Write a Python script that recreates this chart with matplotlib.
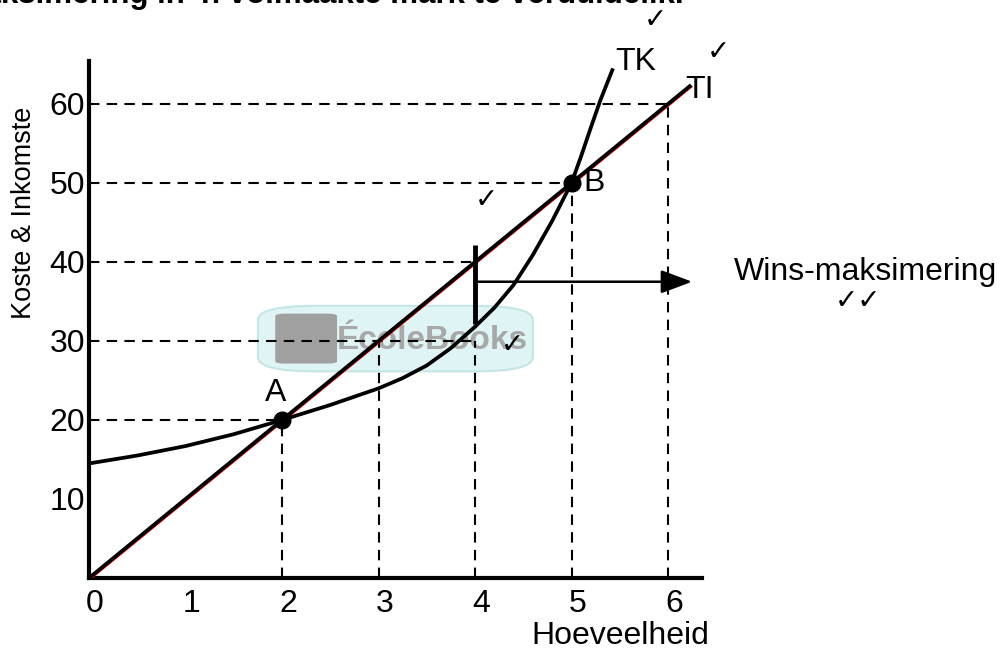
import matplotlib
matplotlib.use("Agg")
import matplotlib.pyplot as plt
from matplotlib.patches import FancyBboxPatch
import matplotlib.transforms as mtransforms

plt.rcParams['font.family'] = ['Liberation Sans', 'DejaVu Sans']

# data
qty_ticks = [0, 1, 2, 3, 4, 5, 6]
value_ticks = [10, 20, 30, 40, 50, 60]

# total income (TI), straight line through origin
ti_q = [0, 6.24]
ti_val = [0, 62.4]

# total cost (TK)
tk_q = [0, 0.5, 1, 1.5, 2, 2.5, 3, 3.25, 3.5, 3.75, 4, 4.2, 4.4, 4.6, 4.8, 5, 5.1, 5.2, 5.3, 5.43]
tk_val = [14.5, 15.5, 16.7, 18.2, 20, 21.9, 24, 25.3, 26.9, 29.1, 31.8, 34.2, 37.1, 40.9, 45.2, 50,
          53.4, 57, 60.5, 64.5]

# points A and B
pt_q = [2, 5]
pt_val = [20, 50]
pt_names = ['A', 'B']

# dashed guides: (value, qty)
guides_h = [(60, 6), (50, 5), (40, 4), (30, 4), (20, 2)]
guides_v = [(2, 20), (3, 30), (4, 30), (5, 50), (6, 60)]

# profit gap at Q=4
gap_q = 4
gap_low, gap_high = 32.2, 42.2
arrow_val = 37.5
arrow_end = 6.25

fig = plt.figure(figsize=(10.07, 6.52), dpi=100)
ax = fig.add_axes([0.0884, 0.1135, 0.6085, 0.7937])
ax.set_xlim(0, 6.35)
ax.set_ylim(0, 65.5)

for s in ['top', 'right']:
    ax.spines[s].set_visible(False)
for s in ['left', 'bottom']:
    ax.spines[s].set_linewidth(3)

ax.set_xticks(qty_ticks)
ax.set_yticks(value_ticks)
ax.tick_params(length=0, labelsize=23)
ax.tick_params(axis='x', pad=8)
ax.tick_params(axis='y', pad=3)
shift = mtransforms.ScaledTranslation(6 / 100, 0, fig.dpi_scale_trans)
for lab in ax.get_xticklabels():
    lab.set_transform(lab.get_transform() + shift)

# watermark
logo = FancyBboxPatch((1.8, 26.3), 2.75, 8.0, boxstyle="round,pad=0.05,rounding_size=0.6",
                      fc='#dff4f4', ec='#c5e6e6', lw=1.5, zorder=1, mutation_aspect=3)
ax.add_patch(logo)
ax.add_patch(FancyBboxPatch((1.95, 27.2), 0.6, 6.2, boxstyle="round,pad=0.02,rounding_size=0.1",
                            fc='#a0a0a0', ec='none', zorder=1.1, mutation_aspect=3))
ax.text(3.56, 30.0, 'ÉcoleBooks', fontsize=24, fontweight='bold', color='#a8a8a8',
        ha='center', va='center', zorder=1.2)

dash = dict(color='black', lw=1.5, linestyle=(0, (5, 3.5)), zorder=2)
for val, q in guides_h:
    ax.plot([0, q], [val, val], **dash)
for q, val in guides_v:
    ax.plot([q, q], [0, val], **dash)

# TI with thin red edge
off = mtransforms.offset_copy(ax.transData, fig=fig, x=1.2, y=-1.2, units='dots')
ax.plot(ti_q, ti_val, color='red', lw=1.2, transform=off, zorder=3, solid_capstyle='butt')
ax.plot(ti_q, ti_val, color='black', lw=2.7, zorder=4, clip_on=False, solid_capstyle='butt')
ax.plot(tk_q, tk_val, color='black', lw=2.7, zorder=4, clip_on=False, solid_capstyle='butt',
        solid_joinstyle='round')

ax.plot([gap_q, gap_q], [gap_low, gap_high], color='black', lw=3.5, zorder=5, solid_capstyle='butt')
ax.annotate('', xy=(arrow_end, arrow_val), xytext=(gap_q, arrow_val),
            arrowprops=dict(arrowstyle='-|>,head_length=1.2,head_width=0.45', color='black',
                            lw=1.8, shrinkA=0, shrinkB=0, mutation_scale=16),
            annotation_clip=False, zorder=5)

ax.plot(pt_q, pt_val, 'o', color='black', ms=12, zorder=6)
ax.text(1.93, 23.4, pt_names[0], fontsize=23, ha='center', va='center')
ax.text(5.12, 50, pt_names[1], fontsize=23, ha='left', va='center')
ax.text(5.45, 65.3, 'TK', fontsize=23, ha='left', va='center', clip_on=False)
ax.text(6.18, 61.8, 'TI', fontsize=23, ha='left', va='center', clip_on=False)

ax.text(8.05, 38.7, 'Wins-maksimering', fontsize=23, ha='center', va='center', clip_on=False)
ck = dict(fontsize=20, ha='center', va='center', family=['DejaVu Sans'], clip_on=False)
ax.text(5.87, 70.6, '✓', **ck)
ax.text(6.52, 66.6, '✓', **ck)
ax.text(4.12, 47.8, '✓', **ck)
ax.text(4.39, 29.5, '✓', **ck)
ax.text(7.97, 35.0, '✓✓', **ck)

ax.set_xlabel('Hoeveelheid', fontsize=23)
ax.xaxis.set_label_coords(0.8665, -0.084)
ax.text(-0.106, 0.705, 'Koste & Inkomste', transform=ax.transAxes, rotation=90,
        fontsize=19.5, ha='center', va='center')

fig.text(684 / 1007, 1 - 3 / 652, "Wins-maksimering in 'n volmaakte mark te verduidelik.",
         fontsize=22.5, fontweight='bold', ha='right', va='baseline')

fig.savefig('out.png', dpi=100)
